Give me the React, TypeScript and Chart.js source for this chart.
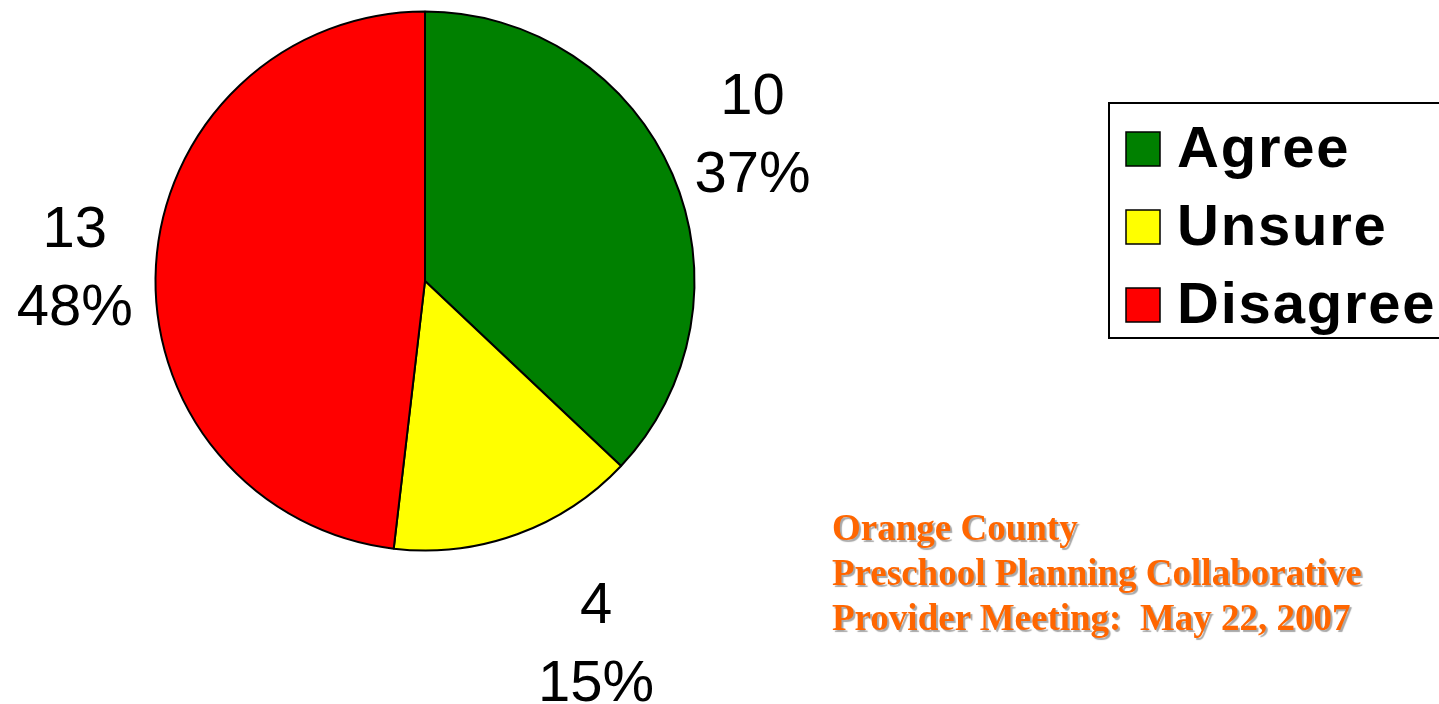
import React, { useEffect, useRef } from "react";
import { Chart, registerables } from "chart.js";

Chart.register(...registerables);

const categories = ["Agree", "Unsure", "Disagree"];
const counts = [10, 4, 13];
const colors = ["#008000", "#FFFF00", "#FF0000"];
const footerLines = [
  "Orange County",
  "Preschool Planning Collaborative",
  "Provider Meeting:  May 22, 2007",
];
// small per-label nudges (px) applied after the geometric placement
const labelNudge = [
  [-16, -1],
  [32, -22],
  [3, 5],
];

const total = counts.reduce((a, b) => a + b, 0);
const percentLabels = counts.map((c) => Math.round((c / total) * 100) + "%");

const LABEL_FONT = '58px "Liberation Sans", Arial, sans-serif';
const LEGEND_FONT = 'bold 58px "Liberation Sans", Arial, sans-serif';

const pieLabelsPlugin = {
  id: "pieLabels",
  afterDraw(chart: any) {
    const ctx = chart.ctx;
    const meta = chart.getDatasetMeta(0);
    ctx.save();
    ctx.fillStyle = "#000";
    ctx.font = LABEL_FONT;
    ctx.textAlign = "center";
    ctx.textBaseline = "alphabetic";
    meta.data.forEach((arc: any, i: number) => {
      const p = arc.getProps(["x", "y", "startAngle", "endAngle", "outerRadius"], true);
      const mid = (p.startAngle + p.endAngle) / 2;
      const dx = Math.cos(mid);
      const dy = Math.sin(mid);
      const hh = 60;
      const dist = p.outerRadius * 1.3 + hh * Math.abs(dy);
      const cx = p.x + dx * dist + labelNudge[i][0];
      const cy = p.y + dy * dist + labelNudge[i][1];
      ctx.fillText(String(chart.data.datasets[0].data[i]), cx, cy - 18);
      ctx.fillText(percentLabels[i], cx, cy + 60);
    });
    ctx.restore();
  },
};

const boxLegendPlugin = {
  id: "boxLegend",
  afterDraw(chart: any) {
    const ctx = chart.ctx;
    const labels = chart.data.labels as string[];
    const bg = chart.data.datasets[0].backgroundColor as string[];
    ctx.save();
    ctx.lineWidth = 2;
    ctx.strokeStyle = "#000";
    ctx.fillStyle = "#fff";
    ctx.fillRect(1109, 103, 340, 235);
    ctx.strokeRect(1109, 103, 340, 235);
    ctx.font = LEGEND_FONT;
    try {
      (ctx as any).letterSpacing = "1.8px";
    } catch (e) {}
    ctx.textAlign = "left";
    ctx.textBaseline = "alphabetic";
    labels.forEach((lab, i) => {
      const top = 132 + i * 78;
      ctx.fillStyle = bg[i];
      ctx.fillRect(1126, top, 34, 34);
      ctx.lineWidth = 1.5;
      ctx.strokeStyle = "#000";
      ctx.strokeRect(1126, top, 34, 34);
      ctx.fillStyle = "#000";
      ctx.fillText(lab, 1177, top + 35);
    });
    ctx.restore();
  },
};

export default function App() {
  const canvasRef = useRef<HTMLCanvasElement | null>(null);

  useEffect(() => {
    if (!canvasRef.current) return;
    const chart = new Chart(canvasRef.current, {
      type: "pie",
      data: {
        labels: categories,
        datasets: [
          {
            data: counts,
            backgroundColor: colors,
            borderColor: "#000",
            borderWidth: 2,
          },
        ],
      },
      options: {
        responsive: false,
        maintainAspectRatio: false,
        animation: false,
        devicePixelRatio: 1,
        layout: {
          padding: { left: 154.5, right: 743.5, top: 10.5, bottom: 152.5 },
        },
        plugins: {
          legend: { display: false },
          tooltip: { enabled: false },
        },
      },
      plugins: [pieLabelsPlugin, boxLegendPlugin],
    } as any);
    return () => chart.destroy();
  }, []);

  return (
    <div
      style={{
        position: "absolute",
        left: 0,
        top: 0,
        width: 1439,
        height: 704,
        background: "#fff",
        overflow: "hidden",
      }}
    >
      <canvas
        ref={canvasRef}
        width={1439}
        height={704}
        style={{ display: "block", width: 1439, height: 704 }}
      />
      <div
        style={{
          position: "absolute",
          left: 832,
          top: 505,
          font: 'bold 37px "Liberation Serif", "Times New Roman", serif',
          lineHeight: "45px",
          color: "#FF6600",
          textShadow: "2px 2px 1px #a8a8a8",
          whiteSpace: "pre",
        }}
      >
        {footerLines.map((l, i) => (
          <div key={i}>{l}</div>
        ))}
      </div>
    </div>
  );
}
